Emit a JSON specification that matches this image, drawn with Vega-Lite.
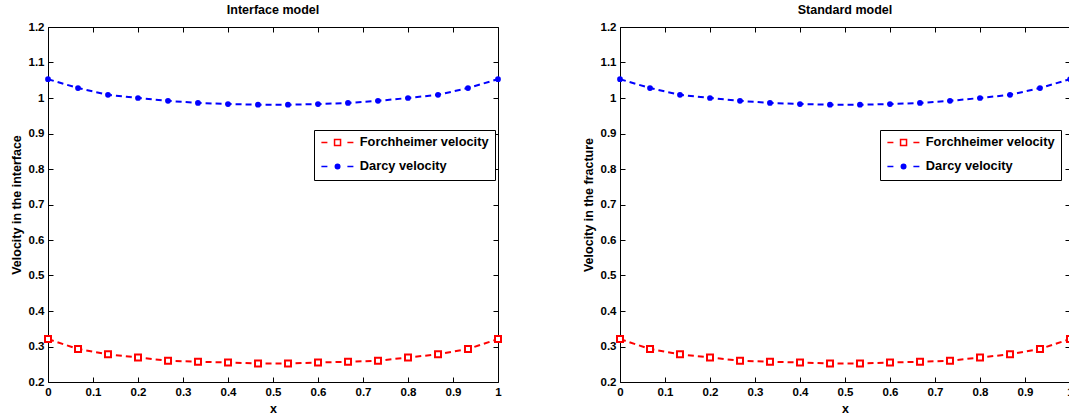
{
  "$schema": "https://vega.github.io/schema/vega-lite/v6.json",
  "padding": {"left": 9, "top": 3, "right": 0, "bottom": 0},
  "bounds": "flush",
  "spacing": 122,
  "datasets": {
    "vel": [
      {"x": 0, "v": 0.321, "series": "Forchheimer velocity"},
      {"x": 0.0667, "v": 0.293, "series": "Forchheimer velocity"},
      {"x": 0.1333, "v": 0.278, "series": "Forchheimer velocity"},
      {"x": 0.2, "v": 0.269, "series": "Forchheimer velocity"},
      {"x": 0.2667, "v": 0.26, "series": "Forchheimer velocity"},
      {"x": 0.3333, "v": 0.257, "series": "Forchheimer velocity"},
      {"x": 0.4, "v": 0.255, "series": "Forchheimer velocity"},
      {"x": 0.4667, "v": 0.252, "series": "Forchheimer velocity"},
      {"x": 0.5333, "v": 0.252, "series": "Forchheimer velocity"},
      {"x": 0.6, "v": 0.255, "series": "Forchheimer velocity"},
      {"x": 0.6667, "v": 0.257, "series": "Forchheimer velocity"},
      {"x": 0.7333, "v": 0.26, "series": "Forchheimer velocity"},
      {"x": 0.8, "v": 0.269, "series": "Forchheimer velocity"},
      {"x": 0.8667, "v": 0.278, "series": "Forchheimer velocity"},
      {"x": 0.9333, "v": 0.293, "series": "Forchheimer velocity"},
      {"x": 1, "v": 0.321, "series": "Forchheimer velocity"},
      {"x": 0, "v": 1.053, "series": "Darcy velocity"},
      {"x": 0.0667, "v": 1.028, "series": "Darcy velocity"},
      {"x": 0.1333, "v": 1.009, "series": "Darcy velocity"},
      {"x": 0.2, "v": 1.0, "series": "Darcy velocity"},
      {"x": 0.2667, "v": 0.992, "series": "Darcy velocity"},
      {"x": 0.3333, "v": 0.986, "series": "Darcy velocity"},
      {"x": 0.4, "v": 0.983, "series": "Darcy velocity"},
      {"x": 0.4667, "v": 0.981, "series": "Darcy velocity"},
      {"x": 0.5333, "v": 0.981, "series": "Darcy velocity"},
      {"x": 0.6, "v": 0.983, "series": "Darcy velocity"},
      {"x": 0.6667, "v": 0.986, "series": "Darcy velocity"},
      {"x": 0.7333, "v": 0.992, "series": "Darcy velocity"},
      {"x": 0.8, "v": 1.0, "series": "Darcy velocity"},
      {"x": 0.8667, "v": 1.009, "series": "Darcy velocity"},
      {"x": 0.9333, "v": 1.028, "series": "Darcy velocity"},
      {"x": 1, "v": 1.053, "series": "Darcy velocity"}
    ]
  },
  "resolve": {
    "scale": {"stroke": "independent", "fill": "independent", "shape": "independent"},
    "legend": {"stroke": "independent", "fill": "independent", "shape": "independent"}
  },
  "hconcat": [
    {
      "title": "Interface model",
      "width": 450,
      "height": 355,
      "data": {"name": "vel"},
      "resolve": {"axis": {"x": "independent", "y": "independent"}},
      "layer": [
        {
          "transform": [{"filter": "datum.series === 'Forchheimer velocity'"}],
          "mark": {"type": "line", "strokeDash": [6, 4], "strokeWidth": 2, "stroke": "#ff0000"},
          "encoding": {
            "x": {"field": "x", "type": "quantitative", "scale": {"domain": [0, 1], "nice": false, "zero": false},
              "axis": {"orient": "bottom", "title": "x", "values": [0, 0.1, 0.2, 0.3, 0.4, 0.5, 0.6, 0.7, 0.8, 0.9, 1], "format": "~g"}},
            "y": {"field": "v", "type": "quantitative", "scale": {"domain": [0.2, 1.2], "nice": false, "zero": false},
              "axis": {"orient": "left", "title": "Velocity in the interface", "values": [0.2, 0.3, 0.4, 0.5, 0.6, 0.7, 0.8, 0.9, 1, 1.1, 1.2], "format": "~g"}}
          }
        },
        {
          "transform": [{"filter": "datum.series === 'Darcy velocity'"}],
          "mark": {"type": "line", "strokeDash": [6, 4], "strokeWidth": 2, "stroke": "#0000ff"},
          "encoding": {
            "x": {"field": "x", "type": "quantitative", "axis": null},
            "y": {"field": "v", "type": "quantitative", "axis": null}
          }
        },
        {
          "transform": [{"filter": "datum.series === 'Forchheimer velocity'"}],
          "mark": {"type": "point", "shape": "square", "size": 36, "stroke": "#ff0000", "fill": "#ffffff", "strokeWidth": 2, "opacity": 1},
          "encoding": {
            "x": {"field": "x", "type": "quantitative",
              "axis": {"orient": "top", "labels": false, "title": null, "values": [0, 0.1, 0.2, 0.3, 0.4, 0.5, 0.6, 0.7, 0.8, 0.9, 1]}},
            "y": {"field": "v", "type": "quantitative",
              "axis": {"orient": "right", "labels": false, "title": null, "values": [0.2, 0.3, 0.4, 0.5, 0.6, 0.7, 0.8, 0.9, 1, 1.1, 1.2]}}
          }
        },
        {
          "transform": [{"filter": "datum.series === 'Darcy velocity'"}],
          "mark": {"type": "point", "shape": "circle", "size": 14, "stroke": "#0000ff", "fill": "#0000ff", "strokeWidth": 2, "opacity": 1},
          "encoding": {
            "x": {"field": "x", "type": "quantitative", "axis": null},
            "y": {"field": "v", "type": "quantitative", "axis": null}
          }
        },
        {
          "transform": [{"filter": "datum.series === 'none'"}],
          "mark": {"type": "point", "strokeWidth": 2, "opacity": 1},
          "encoding": {
            "x": {"field": "x", "type": "quantitative", "axis": null},
            "y": {"field": "v", "type": "quantitative", "axis": null},
            "stroke": {"field": "series", "type": "nominal",
              "scale": {"domain": ["Forchheimer velocity", "Darcy velocity"], "range": ["#ff0000", "#0000ff"]},
              "legend": {"title": null, "orient": "none", "legendX": 266, "legendY": 103, "padding": 6, "rowPadding": 10, "labelOffset": 27, "symbolSize": 100, "strokeColor": "black", "fillColor": "white", "labelFontSize": 12.8, "labelFontWeight": "bold", "labelColor": "black"}},
            "fill": {"field": "series", "type": "nominal",
              "scale": {"domain": ["Forchheimer velocity", "Darcy velocity"], "range": ["#ffffff", "#0000ff"]},
              "legend": {"title": null, "orient": "none", "legendX": 266, "legendY": 103, "padding": 6, "rowPadding": 10, "labelOffset": 27, "symbolSize": 100, "strokeColor": "black", "fillColor": "white", "labelFontSize": 12.8, "labelFontWeight": "bold", "labelColor": "black"}},
            "shape": {"field": "series", "type": "nominal",
              "scale": {"domain": ["Forchheimer velocity", "Darcy velocity"], "range": ["M-1,0H0.2M4.2,0H5.4M1.63,-0.6H2.83V0.6H1.63Z", "M-1,0H0.2M4.2,0H5.4M1.78,0A0.45,0.45 0 1,0 2.68,0A0.45,0.45 0 1,0 1.78,0Z"]},
              "legend": {"title": null, "orient": "none", "legendX": 266, "legendY": 103, "padding": 6, "rowPadding": 10, "labelOffset": 27, "symbolSize": 100, "strokeColor": "black", "fillColor": "white", "labelFontSize": 12.8, "labelFontWeight": "bold", "labelColor": "black"}}
          }
        }
      ]
    },
    {
      "title": "Standard model",
      "width": 450,
      "height": 355,
      "data": {"name": "vel"},
      "resolve": {"axis": {"x": "independent", "y": "independent"}},
      "layer": [
        {
          "transform": [{"filter": "datum.series === 'Forchheimer velocity'"}],
          "mark": {"type": "line", "strokeDash": [6, 4], "strokeWidth": 2, "stroke": "#ff0000"},
          "encoding": {
            "x": {"field": "x", "type": "quantitative", "scale": {"domain": [0, 1], "nice": false, "zero": false},
              "axis": {"orient": "bottom", "title": "x", "values": [0, 0.1, 0.2, 0.3, 0.4, 0.5, 0.6, 0.7, 0.8, 0.9, 1], "format": "~g"}},
            "y": {"field": "v", "type": "quantitative", "scale": {"domain": [0.2, 1.2], "nice": false, "zero": false},
              "axis": {"orient": "left", "title": "Velocity in the fracture", "values": [0.2, 0.3, 0.4, 0.5, 0.6, 0.7, 0.8, 0.9, 1, 1.1, 1.2], "format": "~g"}}
          }
        },
        {
          "transform": [{"filter": "datum.series === 'Darcy velocity'"}],
          "mark": {"type": "line", "strokeDash": [6, 4], "strokeWidth": 2, "stroke": "#0000ff"},
          "encoding": {
            "x": {"field": "x", "type": "quantitative", "axis": null},
            "y": {"field": "v", "type": "quantitative", "axis": null}
          }
        },
        {
          "transform": [{"filter": "datum.series === 'Forchheimer velocity'"}],
          "mark": {"type": "point", "shape": "square", "size": 36, "stroke": "#ff0000", "fill": "#ffffff", "strokeWidth": 2, "opacity": 1},
          "encoding": {
            "x": {"field": "x", "type": "quantitative",
              "axis": {"orient": "top", "labels": false, "title": null, "values": [0, 0.1, 0.2, 0.3, 0.4, 0.5, 0.6, 0.7, 0.8, 0.9, 1]}},
            "y": {"field": "v", "type": "quantitative",
              "axis": {"orient": "right", "labels": false, "title": null, "values": [0.2, 0.3, 0.4, 0.5, 0.6, 0.7, 0.8, 0.9, 1, 1.1, 1.2]}}
          }
        },
        {
          "transform": [{"filter": "datum.series === 'Darcy velocity'"}],
          "mark": {"type": "point", "shape": "circle", "size": 14, "stroke": "#0000ff", "fill": "#0000ff", "strokeWidth": 2, "opacity": 1},
          "encoding": {
            "x": {"field": "x", "type": "quantitative", "axis": null},
            "y": {"field": "v", "type": "quantitative", "axis": null}
          }
        },
        {
          "transform": [{"filter": "datum.series === 'none'"}],
          "mark": {"type": "point", "strokeWidth": 2, "opacity": 1},
          "encoding": {
            "x": {"field": "x", "type": "quantitative", "axis": null},
            "y": {"field": "v", "type": "quantitative", "axis": null},
            "stroke": {"field": "series", "type": "nominal",
              "scale": {"domain": ["Forchheimer velocity", "Darcy velocity"], "range": ["#ff0000", "#0000ff"]},
              "legend": {"title": null, "orient": "none", "legendX": 260, "legendY": 103, "padding": 6, "rowPadding": 10, "labelOffset": 27, "symbolSize": 100, "strokeColor": "black", "fillColor": "white", "labelFontSize": 12.8, "labelFontWeight": "bold", "labelColor": "black"}},
            "fill": {"field": "series", "type": "nominal",
              "scale": {"domain": ["Forchheimer velocity", "Darcy velocity"], "range": ["#ffffff", "#0000ff"]},
              "legend": {"title": null, "orient": "none", "legendX": 260, "legendY": 103, "padding": 6, "rowPadding": 10, "labelOffset": 27, "symbolSize": 100, "strokeColor": "black", "fillColor": "white", "labelFontSize": 12.8, "labelFontWeight": "bold", "labelColor": "black"}},
            "shape": {"field": "series", "type": "nominal",
              "scale": {"domain": ["Forchheimer velocity", "Darcy velocity"], "range": ["M-1,0H0.2M4.2,0H5.4M1.63,-0.6H2.83V0.6H1.63Z", "M-1,0H0.2M4.2,0H5.4M1.78,0A0.45,0.45 0 1,0 2.68,0A0.45,0.45 0 1,0 1.78,0Z"]},
              "legend": {"title": null, "orient": "none", "legendX": 260, "legendY": 103, "padding": 6, "rowPadding": 10, "labelOffset": 27, "symbolSize": 100, "strokeColor": "black", "fillColor": "white", "labelFontSize": 12.8, "labelFontWeight": "bold", "labelColor": "black"}}
          }
        }
      ]
    }
  ],
  "config": {
    "font": "Liberation Sans",
    "background": "white",
    "view": {"stroke": "black", "strokeWidth": 1},
    "axis": {
      "domain": false, "grid": false, "ticks": true, "tickSize": -5, "tickColor": "black", "tickWidth": 1,
      "labelFontSize": 11.5, "labelFontWeight": "bold", "labelColor": "black", "labelPadding": 9,
      "labelFlush": false, "labelOverlap": false,
      "titleFontSize": 12.5, "titleFontWeight": "bold", "titleColor": "black"
    },
    "axisX": {"titlePadding": 5},
    "axisY": {"titlePadding": 5},
    "title": {"fontSize": 12.5, "fontWeight": "bold", "color": "black", "offset": 5, "anchor": "middle"}
  }
}
